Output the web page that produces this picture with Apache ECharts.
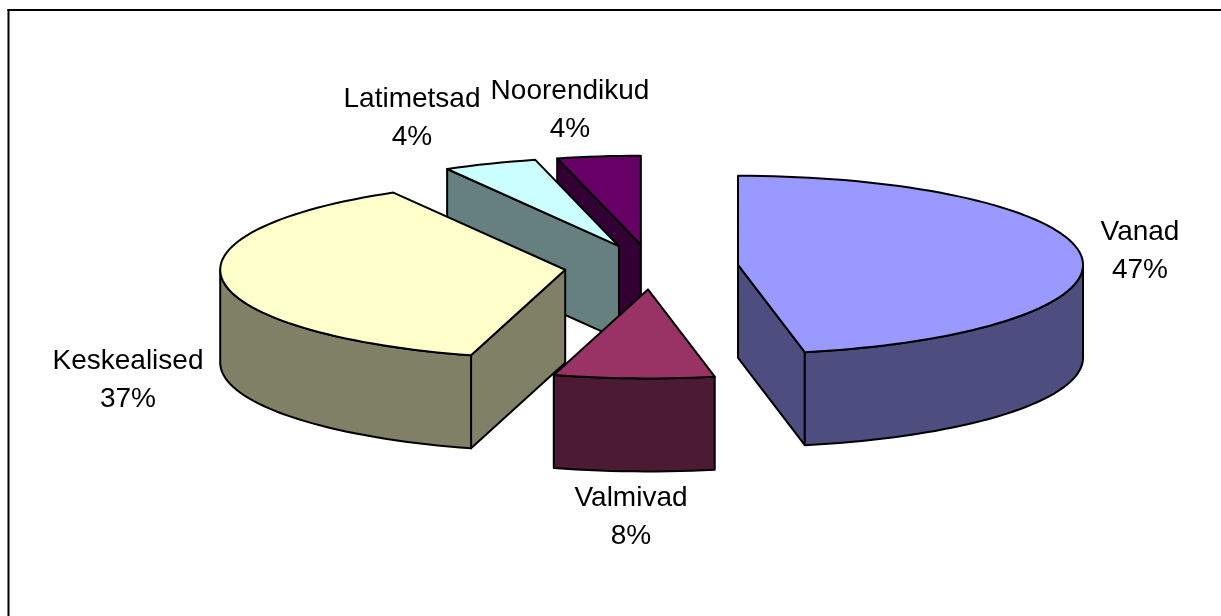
<!DOCTYPE html>
<html>
<head>
<meta charset="utf-8">
<title>Vanuseklassid</title>
<script src="https://cdn.jsdelivr.net/npm/echarts@6/dist/echarts.min.js"></script>
<style>
html, body { margin: 0; padding: 0; background: #fff; }
#chart { width: 1221px; height: 616px; }
</style>
</head>
<body>
<div id="chart"></div>
<script>
// clockwise from 12 o'clock
const names = ['Vanad', 'Valmivad', 'Keskealised', 'Latimetsad', 'Noorendikud']
const shares = [46.9, 7.5, 37.3, 4.4, 3.9]

const topColors = ['#9999ff', '#993366', '#ffffcc', '#ccffff', '#660066']
const sideColors = ['#4d4d80', '#4d1a33', '#808066', '#668080', '#330033']
// back slices are painted first
const paintRank = [4, 3, 2, 1, 0]
const labelCenters = [[1140, 251], [631, 517], [128, 380], [412, 118], [570, 110]]

const pie = { cx: 651.5, cy: 267, rx: 345, ry: 89, depth: 93, explode: 0.252 }
const total = shares.reduce((a, b) => a + b, 0)

function rad(d) { return d * Math.PI / 180 }

function point(c, deg, down) {
  return [c[0] + pie.rx * Math.sin(rad(deg)), c[1] - pie.ry * Math.cos(rad(deg)) + (down || 0)]
}

function arc(c, from, to, down) {
  const pts = []
  const steps = Math.max(1, Math.ceil((to - from) / 2))
  for (let i = 0; i <= steps; i++) pts.push(point(c, from + (to - from) * i / steps, down))
  return pts
}

function face(points, fill, z2) {
  return {
    type: 'polygon',
    z2,
    shape: { points },
    style: { fill, stroke: '#000', lineWidth: 2, lineJoin: 'round' }
  }
}

function radialWall(c, deg, fill, z2) {
  const edge = point(c, deg)
  const d = pie.depth
  return face([c, edge, [edge[0], edge[1] + d], [c[0], c[1] + d]], fill, z2)
}

function renderSlice(params, api) {
  const i = params.dataIndex
  const before = shares.slice(0, i).reduce((a, b) => a + b, 0)
  const start = before / total * 360
  const end = start + api.value(0) / total * 360
  const mid = (start + end) / 2
  const c = [
    pie.cx + pie.explode * pie.rx * Math.sin(rad(mid)),
    pie.cy - pie.explode * pie.ry * Math.cos(rad(mid))
  ]
  const z = paintRank[i] * 10
  const children = []

  // only the walls facing the viewer
  if (Math.sin(rad(start)) < -0.001) children.push(radialWall(c, start, sideColors[i], z))
  if (Math.sin(rad(end)) > 0.001) children.push(radialWall(c, end, sideColors[i], z + 1))

  const from = Math.max(start, 90)
  const to = Math.min(end, 270)
  if (to > from) {
    const wall = arc(c, from, to).concat(arc(c, from, to, pie.depth).reverse())
    children.push(face(wall, sideColors[i], z + 2))
  }

  children.push(face([c].concat(arc(c, start, end)), topColors[i], z + 3))

  children.push({
    type: 'text',
    z2: 100,
    style: {
      x: labelCenters[i][0],
      y: labelCenters[i][1],
      text: names[i] + '\n' + Math.round(api.value(0)) + '%',
      fill: '#000',
      font: '28px "Liberation Sans", Arial, sans-serif',
      lineHeight: 38,
      align: 'center',
      verticalAlign: 'middle'
    }
  })
  return { type: 'group', children }
}

const chart = echarts.init(document.getElementById('chart'))
chart.setOption({
  animation: false,
  backgroundColor: '#fff',
  graphic: [
    { type: 'line', shape: { x1: 7.5, y1: 10, x2: 1221, y2: 10 }, style: { stroke: '#000', lineWidth: 2 } },
    { type: 'line', shape: { x1: 8.5, y1: 9, x2: 8.5, y2: 616 }, style: { stroke: '#000', lineWidth: 2 } }
  ],
  series: [{
    type: 'custom',
    coordinateSystem: 'none',
    renderItem: renderSlice,
    silent: true,
    data: shares.map((v, i) => ({ name: names[i], value: [v] }))
  }]
})
</script>
</body>
</html>
